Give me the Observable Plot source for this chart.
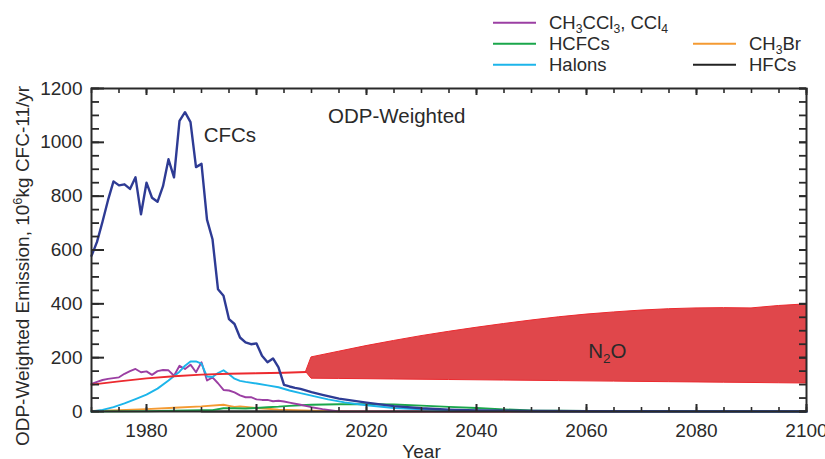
<!DOCTYPE html>
<html><head><meta charset="utf-8">
<script src="https://cdn.jsdelivr.net/npm/d3@7"></script>
<script src="https://cdn.jsdelivr.net/npm/@observablehq/plot@0.6"></script>
<style>
body{margin:0;background:#fff;}
#wrap{position:relative;width:825px;height:459px;overflow:hidden;}
</style></head><body><div id="wrap"></div>
<script>
// ---------- data ----------
const cfcYears = [1970,1971,1972,1973,1974,1975,1976,1977,1978,1979,1980,1981,1982,1983,1984,1985,1986,1987,1988,1989,1990,1991,1992,1993,1994,1995,1996,1997,1998,1999,2000,2001,2002,2003,2004,2005,2006,2007,2008,2010,2012,2015,2020,2025,2030,2035,2040,2050,2060,2080,2100];
const cfcValues = [578,630,705,785,855,840,844,827,870,733,850,794,779,837,937,870,1080,1112,1075,908,920,713,640,454,430,343,325,275,257,250,253,207,183,197,164,99,93,88,84,72,62,48,33,20,12,7,4,2,1,0.6,0.4];

const ch3Years = [1970,1971,1972,1973,1974,1975,1976,1977,1978,1979,1980,1981,1982,1983,1984,1985,1986,1987,1988,1989,1990,1991,1992,1993,1994,1995,1996,1997,1998,1999,2000,2001,2002,2003,2004,2005,2006,2008,2010,2012,2015,2100];
const ch3Values = [103,110,117,121,124,127,140,150,158,146,149,136,150,154,153,133,170,158,174,146,183,115,127,105,80,78,71,60,53,53,45,43,43,38,40,37,33,25,16,9,0,0];

const halonYears = [1970,1972,1974,1976,1978,1980,1982,1984,1986,1987,1988,1989,1990,1991,1992,1993,1994,1995,1996,1997,1998,2000,2002,2004,2006,2008,2010,2013,2016,2020,2025,2030,2040,2050,2100];
const halonValues = [0,6,16,30,46,63,85,115,148,170,186,186,178,130,128,143,153,138,122,114,110,104,97,90,78,68,59,45,34,23,13,8,3,1,0];

const hcfcYears = [1970,1980,1985,1990,1992,1994,1996,1998,2000,2002,2004,2006,2008,2010,2015,2020,2025,2030,2035,2040,2045,2050,2060,2070,2100];
const hcfcValues = [0,1,3,5,5,12,12,11,13,16,18,21,23,25,27,27,26,22,17,13,8,4,2,1,0.5];

const ch3brYears = [1970,1975,1980,1985,1990,1994,1995,1996,1997,1998,2000,2002,2004,2007,2010,2015,2020,2100];
const ch3brValues = [2,5,9,14,19,25,21,17,19,17,13,10,7,5,3,1,0,0];

const hfcYears = [1990,2100];
const hfcValues = [0,0];

const n2oLineYears = [1970,1975,1980,1985,1990,1995,2000,2005,2009];
const n2oLineValues = [100,112,123,131,137,140,142,144,147];

const n2oBandYears = [2009,2010,2015,2020,2025,2030,2035,2040,2045,2050,2055,2060,2065,2070,2075,2080,2085,2090,2095,2100];
const n2oBandHigh = [147,201,222,243,262,280,296,311,325,338,350,360,368,375,380,383,384,383,392,398];
const n2oBandLow  = [147,122,121,120,119,118,117,116,115,114,113,112,111,110,109,108,107,106,105,104];

const xTickLabels = [1980,2000,2020,2040,2060,2080,2100];
const xMinorTicks = d3.range(1970,2101,5);
const yTickLabels = [0,200,400,600,800,1000,1200];
const yMinorTicks = d3.range(0,1201,50);

const legendLabels = [
  [["CH",""],["3","sub"],["CCl",""],["3","sub"],[", CCl",""],["4","sub"]],
  [["HCFCs",""]],
  [["Halons",""]],
  [["CH",""],["3","sub"],["Br",""]],
  [["HFCs",""]]
];
const legendColors = ["#9b3fa3","#1aa64b","#1cb5ea","#f49a32","#222222"];

const annotations = [
  {label:"ODP-Weighted", year:2013, value:1097},
  {label:"CFCs", year:1990.4, value:1025},
  {label:"N2O", year:2060.3, value:223}
];

// ---------- helpers ----------
const pts = (xs, ys) => xs.map((x,i)=>({year:x, value:ys[i]}));
const band = n2oBandYears.map((x,i)=>({year:x, lo:n2oBandLow[i], hi:n2oBandHigh[i]}));

const W=825, H=459, mL=91, mR=19, mT=88, mB=48;
const plotW = W-mL-mR, plotH = H-mT-mB;
const xDom = [1970, 2100], yDom = [0, 1200];
const pxX = plotW/(xDom[1]-xDom[0]);   // px per year
const pxY = plotH/(yDom[1]-yDom[0]);   // px per unit
const ink = "#2a2a2a";
const font = "'Liberation Sans', Arial, Helvetica, sans-serif";

// inward tick lengths (pixels converted to data units)
const tx = (px) => px/pxY, ty = (px) => px/pxX;

const svg = Plot.plot({
  width: W, height: H,
  marginLeft: mL, marginRight: mR, marginTop: mT, marginBottom: mB,
  style: {fontFamily: font, background: "#fff", color: ink, overflow: "visible"},
  x: {domain: xDom},
  y: {domain: yDom},
  marks: [
    // series
    Plot.lineY(pts(hfcYears,hfcValues), {x:"year", y:"value", stroke:legendColors[4], strokeWidth:2}),
    Plot.lineY(pts(ch3brYears,ch3brValues), {x:"year", y:"value", stroke:legendColors[3], strokeWidth:1.9}),
    Plot.lineY(pts(hcfcYears,hcfcValues), {x:"year", y:"value", stroke:legendColors[1], strokeWidth:1.9}),
    Plot.lineY(pts(ch3Years,ch3Values), {x:"year", y:"value", stroke:legendColors[0], strokeWidth:1.9}),
    Plot.lineY(pts(halonYears,halonValues), {x:"year", y:"value", stroke:legendColors[2], strokeWidth:1.9}),
    Plot.lineY(pts(n2oLineYears,n2oLineValues), {x:"year", y:"value", stroke:"#ec2a2f", strokeWidth:1.9}),
    Plot.areaY(band, {x:"year", y1:"lo", y2:"hi", fill:"#e0474b", stroke:"#ec2a2f", strokeWidth:1}),
    Plot.lineY(pts(cfcYears,cfcValues), {x:"year", y:"value", stroke:"#2e3b94", strokeWidth:2.4}),
    // annotations
    Plot.text(annotations, {x:"year", y:"value", text:"label", textAnchor:"start", lineAnchor:"middle", fontSize:20.5, fill:ink}),
    // inward ticks on all four sides
    Plot.ruleX(xMinorTicks, {x:d=>d, y1:yDom[0], y2:yDom[0]+tx(4), stroke:ink, strokeWidth:1.6}),
    Plot.ruleX(xTickLabels, {x:d=>d, y1:yDom[0], y2:yDom[0]+tx(7), stroke:ink, strokeWidth:2}),
    Plot.ruleX(xMinorTicks, {x:d=>d, y1:yDom[1], y2:yDom[1]-tx(5), stroke:ink, strokeWidth:1.6}),
    Plot.ruleX(xTickLabels, {x:d=>d, y1:yDom[1], y2:yDom[1]-tx(7), stroke:ink, strokeWidth:2}),
    Plot.ruleY(yMinorTicks, {y:d=>d, x1:xDom[0], x2:xDom[0]+ty(8), stroke:ink, strokeWidth:1.8}),
    Plot.ruleY(yTickLabels, {y:d=>d, x1:xDom[0], x2:xDom[0]+ty(13), stroke:ink, strokeWidth:2}),
    Plot.ruleY(yMinorTicks, {y:d=>d, x1:xDom[1], x2:xDom[1]-ty(7), stroke:ink, strokeWidth:1.8}),
    Plot.ruleY(yTickLabels, {y:d=>d, x1:xDom[1], x2:xDom[1]-ty(7), stroke:ink, strokeWidth:2}),
    Plot.frame({stroke:ink, strokeWidth:2}),
    // axes labels
    Plot.axisX(xTickLabels, {tickSize:0, tickPadding:12, fontSize:19, label:null, fill:ink, tickFormat:d=>String(d)}),
    Plot.axisY(yTickLabels, {tickSize:0, tickPadding:9, fontSize:19, label:null, fill:ink, tickFormat:d=>String(d)}),
    Plot.text(["Year"], {frameAnchor:"bottom", lineAnchor:"middle", dy:40, dx:-27.5, fontSize:19, fill:ink})
  ]
});
document.getElementById("wrap").appendChild(svg);

// ---------- rich text (sub/superscripts) ----------
const root = d3.select(svg);
function rich(sel, parts, size){
  parts.forEach(([t,k])=>{
    const ts = sel.append("tspan").text(t);
    if (k==="sub") ts.attr("font-size", size*0.66).attr("baseline-shift", -size*0.22);
    if (k==="sup") ts.attr("font-size", size*0.68).attr("baseline-shift", size*0.38);
  });
}
// N2O annotation subscript
root.selectAll("text").filter(function(){ return this.textContent==="N2O" && this.childElementCount===0; })
  .each(function(){ const s=d3.select(this); s.text(""); rich(s, [["N",""],["2","sub"],["O",""]], 20.5); });

// y-axis title
const yl = root.append("text")
  .attr("transform","translate(29,266) rotate(-90)")
  .attr("text-anchor","middle").attr("font-size",19).attr("fill",ink)
  .attr("font-family",font);
rich(yl, [["ODP-Weighted Emission, 10",""],["6","sup"],["kg CFC-11/yr",""]], 19);

// legend
const legPos = [
  {lx:493, tx:549, by:28.6},
  {lx:493, tx:549, by:49.6},
  {lx:493, tx:549, by:70.6},
  {lx:693, tx:749, by:49.6},
  {lx:693, tx:749, by:70.6}
];
const lg = root.append("g").attr("font-family",font).attr("font-size",18.5).attr("fill",ink).attr("text-anchor","start");
legendLabels.forEach((parts,i)=>{
  const p = legPos[i];
  lg.append("line").attr("x1",p.lx).attr("x2",p.lx+43).attr("y1",p.by-5.8).attr("y2",p.by-5.8)
    .attr("stroke",legendColors[i]).attr("stroke-width",2);
  const t = lg.append("text").attr("x",p.tx).attr("y",p.by).attr("text-anchor","start");
  rich(t, parts, 18.5);
});
</script>
</body></html>
